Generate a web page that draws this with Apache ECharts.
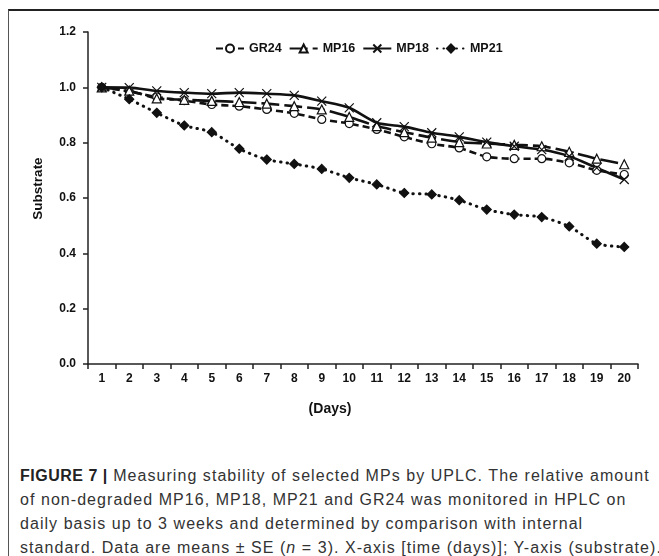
<!DOCTYPE html>
<html>
<head>
<meta charset="utf-8">
<script src="https://cdn.jsdelivr.net/npm/echarts@6/dist/echarts.min.js"></script>
<style>
  html, body { margin: 0; padding: 0; background: #fff; }
  .figure { position: relative; width: 659px; height: 556px; overflow: hidden; }
  .frame { position: absolute; left: 8px; top: 9px; width: 700px; height: 600px;
    border-top: 2px solid #222; border-left: 1px solid #555; }
  #chart { position: absolute; left: 0; top: 0; width: 659px; height: 440px; }
  .caption { position: absolute; left: 20px; top: 464px; width: 680px; white-space: nowrap;
    font-family: "Liberation Sans", Arial, sans-serif; font-size: 16px; line-height: 24px;
    letter-spacing: 1.05px; color: #333; }
  .caption b { color: #222; letter-spacing: 0.5px; }
</style>
</head>
<body>
<div class="figure">
  <div class="frame"></div>
  <div id="chart"></div>
  <div class="caption"><b>FIGURE 7 |</b> Measuring stability of selected MPs by UPLC. The relative amount<br>of non-degraded MP16, MP18, MP21 and GR24 was monitored in HPLC on<br>daily basis up to 3 weeks and determined by comparison with internal<br>standard. Data are means &plusmn; SE (<i>n</i> = 3). X-axis [time (days)]; Y-axis (substrate).</div>
</div>
<script>
// 天数
var days = ['1', '2', '3', '4', '5', '6', '7', '8', '9', '10',
  '11', '12', '13', '14', '15', '16', '17', '18', '19', '20']
// 各样品的相对含量
var gr24 = [1.0, 0.985, 0.965, 0.952, 0.938, 0.932, 0.920, 0.906, 0.884, 0.869,
  0.848, 0.821, 0.796, 0.781, 0.749, 0.742, 0.742, 0.727, 0.700, 0.685]
var mp16 = [1.0, 0.988, 0.960, 0.955, 0.951, 0.947, 0.941, 0.932, 0.920, 0.893,
  0.860, 0.838, 0.818, 0.802, 0.797, 0.792, 0.787, 0.767, 0.742, 0.722]
var mp18 = [1.0, 0.999, 0.987, 0.981, 0.977, 0.981, 0.977, 0.971, 0.950, 0.926,
  0.872, 0.858, 0.836, 0.821, 0.802, 0.787, 0.775, 0.751, 0.709, 0.667]
var mp21 = [1.0, 0.957, 0.908, 0.862, 0.838, 0.778, 0.739, 0.723, 0.705, 0.673,
  0.649, 0.618, 0.613, 0.592, 0.558, 0.540, 0.531, 0.497, 0.435, 0.423]
var yTicks = [0, 0.2, 0.4, 0.6, 0.8, 1.0, 1.2]

var chart = echarts.init(document.getElementById('chart'))
var font = '"Liberation Sans", Arial, sans-serif'
var crossPath = 'path://M0,0L10,10M10,0L0,10'

function makeSeries(name, data, symbol, size, lineType, fill) {
  var dotted = lineType === 'dotted'
  return {
    name: name,
    type: 'line',
    data: data,
    smooth: 0.25,
    symbol: symbol,
    symbolSize: size,
    lineStyle: { color: '#111', width: dotted ? 3 : 2.6, type: dotted ? [0.5, 6] : lineType, cap: dotted ? 'round' : 'butt' },
    itemStyle: { color: fill, borderColor: '#111', borderWidth: 1.2 }
  }
}

chart.setOption({
  animation: false,
  textStyle: { fontFamily: font },
  legend: {
    top: 37,
    left: 210,
    itemWidth: 28,
    itemHeight: 10,
    itemGap: 7,
    textStyle: { fontFamily: font, fontWeight: 'bold', fontSize: 12.5, color: '#111' },
    data: ['GR24', 'MP16', 'MP18', 'MP21']
  },
  grid: { left: 88, right: 21, top: 32, bottom: 76 },
  xAxis: {
    type: 'category',
    data: days,
    boundaryGap: true,
    name: '(Days)',
    nameLocation: 'middle',
    nameGap: 38,
    nameTextStyle: { fontFamily: font, fontWeight: 'bold', fontSize: 14, color: '#111', padding: [0, 66, 0, 0] },
    axisLine: { lineStyle: { color: '#222', width: 1.5 } },
    axisTick: { show: true, length: 5, lineStyle: { color: '#222', width: 1.5 } },
    axisLabel: { margin: 9, fontFamily: font, fontWeight: 'bold', fontSize: 12, color: '#111' }
  },
  yAxis: {
    type: 'value',
    min: yTicks[0],
    max: yTicks[yTicks.length - 1],
    interval: 0.2,
    name: 'Substrate',
    nameLocation: 'middle',
    nameGap: 43,
    nameTextStyle: { fontFamily: font, fontWeight: 'bold', fontSize: 13.5, color: '#111', padding: [0, 0, 0, 19] },
    splitLine: { show: false },
    axisLine: { show: true, lineStyle: { color: '#222', width: 1.5 } },
    axisTick: { show: true, length: 5, lineStyle: { color: '#222', width: 1.5 } },
    axisLabel: {
      margin: 12, fontFamily: font, fontWeight: 'bold', fontSize: 12, color: '#111',
      formatter: function (v) { return v.toFixed(1) }
    }
  },
  series: [
    makeSeries('GR24', gr24, 'circle', 8, [7, 4], '#fff'),
    makeSeries('MP16', mp16, 'triangle', 9, [18, 5], '#fff'),
    makeSeries('MP18', mp18, crossPath, 9, 'solid', 'none'),
    makeSeries('MP21', mp21, 'diamond', 9, 'dotted', '#111')
  ]
})
</script>
</body>
</html>
